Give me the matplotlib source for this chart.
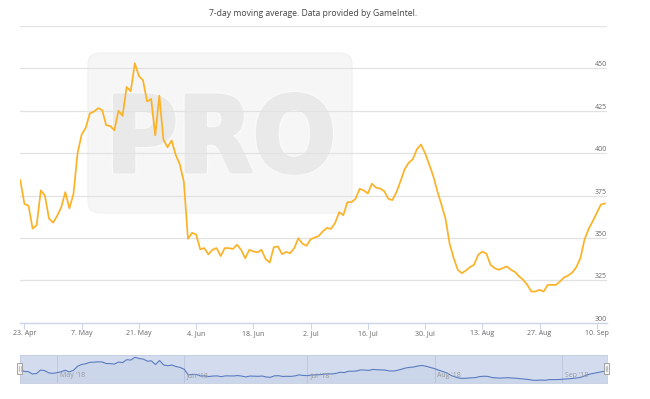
import matplotlib
matplotlib.use("Agg")
import matplotlib.pyplot as plt
from matplotlib.patches import FancyBboxPatch, PathPatch, Rectangle
from matplotlib.textpath import TextPath
from matplotlib.font_manager import FontProperties
from matplotlib.transforms import Affine2D
import pandas as pd

# ---------------- data ----------------
start_date = "2018-04-22"
values = [
    384, 370, 369, 355.5, 357.5, 378, 375, 361.5, 359, 363,
    368, 377, 367.5, 376, 400, 411, 415, 423.5, 424.5, 426.5,
    425.5, 416.5, 416, 413.5, 425, 422, 439, 436.5, 453, 445.5,
    443, 430.5, 432, 410.5, 434, 408, 403.5, 407.5, 399, 393.5,
    383, 349.5, 353, 352, 343.3, 344, 340.3, 343, 344, 339.3,
    344, 344, 343.5, 346, 343, 338, 343, 342, 341.5, 343,
    337.5, 335.5, 344.5, 345, 340.5, 341.7, 341, 344, 349.8, 346.6,
    345.4, 349.2, 350.2, 351.2, 353.9, 355.9, 355.3, 358.9, 365.2, 363.4,
    371.1, 371.1, 373.1, 379, 378, 376.2, 382, 379.6, 379.2, 377.6,
    373.1, 372.3, 377, 383.5, 390.5, 394.4, 396.4, 402.3, 405.1, 400,
    393.4, 386.5, 377.6, 369.7, 361.3, 346.6, 338.1, 331.2, 329.2, 330.8,
    332.8, 334.2, 340.1, 341.9, 340.7, 334.2, 332.2, 331.2, 332.2, 333.2,
    331.2, 329.9, 327.3, 325.3, 322.3, 318.4, 318.4, 319.4, 318.4, 322.3,
    322.3, 322.3, 324.3, 326.7, 327.8, 329.6, 332.8, 338.1, 349, 355.3,
    359.8, 364.8, 369.7, 370.3,
]
dates = pd.date_range(start_date, periods=len(values), freq="D")

xtick_dates = ["2018-04-23", "2018-05-07", "2018-05-21", "2018-06-04", "2018-06-18",
               "2018-07-02", "2018-07-16", "2018-07-30", "2018-08-13", "2018-08-27",
               "2018-09-10"]
xtick_labels = ["23. Apr", "7. May", "21. May", "4. Jun", "18. Jun", "2. Jul",
                "16. Jul", "30. Jul", "13. Aug", "27. Aug", "10. Sep"]
ytick_values = [300, 325, 350, 375, 400, 425, 450, 475]
ytick_labels = ["300", "325", "350", "375", "400", "425", "450", ""]
nav_month_dates = ["2018-05-01", "2018-06-01", "2018-07-01", "2018-08-01", "2018-09-01"]
nav_month_labels = ["May '18", "Jun '18", "Jul '18", "Aug '18", "Sep '18"]
title_text = "7-day moving average. Data provided by GameIntel."

# ---------------- style ----------------
FONT = ["Open Sans", "DejaVu Sans"]
plt.rcParams["font.family"] = FONT
W, H = 650, 399
fig = plt.figure(figsize=(W / 100, H / 100), dpi=100)
fig.patch.set_facecolor("white")

def fx(px):
    return px / W

def fy(py):
    return (H - py) / H

# main axes: x 20..607, y 26..322.7
L, R, T, B = 20, 607, 26, 322.7
ax = fig.add_axes([fx(L), fy(B), fx(R - L), (B - T) / H])
ax.set_facecolor("none")
ax.plot(dates, values, color="#fbb226", lw=1.25, zorder=3, solid_joinstyle="round")
ax.set_xlim(dates[0] - pd.Timedelta(hours=2), dates[-1] + pd.Timedelta(hours=12))
ax.set_ylim(300, 475)
ax.set_axisbelow(True)
ax.set_yticks(ytick_values)
ax.set_yticklabels(ytick_labels)
ax.yaxis.tick_right()
ax.tick_params(axis="y", length=0, pad=0, labelsize=5, labelcolor="#666666")
for lab in ax.get_yticklabels():
    lab.set_horizontalalignment("right")
    lab.set_verticalalignment("bottom")
ax.grid(axis="y", color="#e2e2e2", lw=0.9)
ax.set_xticks(pd.to_datetime(xtick_dates))
ax.set_xticklabels(xtick_labels)
ax.tick_params(axis="x", length=4, width=0.8, color="#ccd6eb", pad=1.2,
               labelsize=5, labelcolor="#666666")
for s in ["top", "left", "right"]:
    ax.spines[s].set_visible(False)
ax.spines["bottom"].set_color("#ccd6eb")
ax.spines["bottom"].set_linewidth(1.0)

# watermark (pixel based, inches transform)
tr = fig.dpi_scale_trans
box = FancyBboxPatch((0.88 + 0.1, (H - 213) / 100 + 0.1), 2.64 - 0.2, 1.60 - 0.2,
                     boxstyle="round,pad=0.1,rounding_size=0.12",
                     transform=tr, facecolor="#f6f6f6", edgecolor="#f2f2f2",
                     lw=1, zorder=0.1)
ax.add_artist(box)
tp = TextPath((0, 0), "PRO", size=100,
              prop=FontProperties(family="DejaVu Sans", weight="bold"))
ext = tp.get_extents()
inset = 0.02
x0, x1 = 1.13 + inset, 3.33 - inset
y0, y1 = (H - 175) / 100 + inset, (H - 92) / 100 - inset
sx = (x1 - x0) / ext.width
sy = (y1 - y0) / ext.height
path = Affine2D().translate(-ext.x0, -ext.y0).scale(sx, sy).translate(x0, y0).transform_path(tp)
glow = PathPatch(path, transform=tr, facecolor="none", edgecolor="#f9f9f9",
                 lw=5, zorder=0.15, joinstyle="round")
ax.add_artist(glow)
pro = PathPatch(path, transform=tr, facecolor="#e9e9e9", edgecolor="#e9e9e9",
                lw=2.8, zorder=0.2, joinstyle="round")
ax.add_artist(pro)

# title
fig.text(fx((L + R) / 2), fy(13), title_text, ha="center", va="center",
         fontsize=6.2, color="#444444")

# navigator: x 20..607, y 355..382.7
NT, NB = 355, 382.7
nav = fig.add_axes([fx(L), fy(NB), fx(R - L), (NB - NT) / H])
nav.set_facecolor("#d3dcee")
nav.plot(dates, values, color="#5a7bc0", lw=0.8, zorder=3)
nav.fill_between(dates, values, 300, color="#335cad", alpha=0.04, lw=0, zorder=2)
nav.set_xlim(dates[0], dates[-1])
nav.set_ylim(304, 466.5)
nav.set_xticks([])
nav.set_yticks([])
for s in nav.spines.values():
    s.set_color("#c4cde0")
    s.set_linewidth(0.6)
for d, lab in zip(pd.to_datetime(nav_month_dates), nav_month_labels):
    nav.axvline(d, color="#bfc9de", lw=0.7, zorder=1)
    nav.annotate(lab, xy=(d, 0), xycoords=("data", "axes fraction"),
                 xytext=(2, 2.5), textcoords="offset points",
                 fontsize=5, color="#999999", ha="left", va="bottom", zorder=4)

# navigator handles
for cx in (19.8, 606.5):
    hx0 = (cx - 2.6) / 100
    hy0 = (H - 373.7) / 100
    fig.add_artist(Rectangle((hx0, hy0), 0.052, 0.104, transform=tr,
                             facecolor="#f2f2f2", edgecolor="#999999", lw=0.6,
                             zorder=10))
    for off in (-0.007, 0.007):
        fig.add_artist(plt.Line2D([cx / 100 + off, cx / 100 + off],
                                  [hy0 + 0.03, hy0 + 0.074], transform=tr,
                                  color="#999999", lw=0.4, zorder=11))

fig.savefig("out.png", dpi=100, facecolor="white")
